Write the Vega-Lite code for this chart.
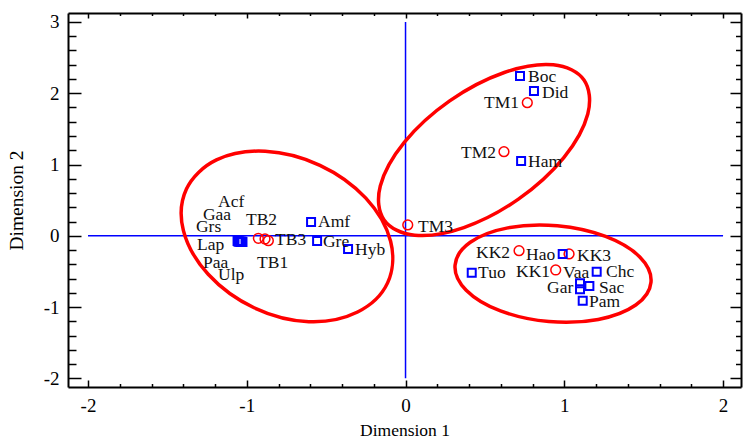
{
  "$schema": "https://vega.github.io/schema/vega-lite/v6.json",
  "width": 673,
  "height": 374,
  "autosize": {"type": "none"},
  "padding": {"left": 68, "top": 13, "right": 2, "bottom": 54},
  "background": "white",
  "config": {"view": {"stroke": null}, "font": "Liberation Serif"},
  "datasets": {
    "ref": [
      {"x": 0, "x2": 0, "y": 3, "y2": -2},
      {"x": -2, "x2": 2, "y": 0, "y2": 0}
    ],
    "ell": [
      {"cluster": "TB", "i": 0, "x": -0.113, "y": -0.661},
      {"cluster": "TB", "i": 1, "x": -0.302, "y": -1.069},
      {"cluster": "TB", "i": 2, "x": -0.609, "y": -1.205},
      {"cluster": "TB", "i": 3, "x": -0.954, "y": -1.010},
      {"cluster": "TB", "i": 4, "x": -1.243, "y": -0.540},
      {"cluster": "TB", "i": 5, "x": -1.399, "y": 0.072},
      {"cluster": "TB", "i": 6, "x": -1.380, "y": 0.655},
      {"cluster": "TB", "i": 7, "x": -1.191, "y": 1.064},
      {"cluster": "TB", "i": 8, "x": -0.884, "y": 1.186},
      {"cluster": "TB", "i": 9, "x": -0.539, "y": 0.989},
      {"cluster": "TB", "i": 10, "x": -0.250, "y": 0.528},
      {"cluster": "TB", "i": 11, "x": -0.094, "y": -0.077},
      {"cluster": "TM", "i": 0, "x": 1.124, "y": 2.186},
      {"cluster": "TM", "i": 1, "x": 1.148, "y": 1.709},
      {"cluster": "TM", "i": 2, "x": 0.997, "y": 1.097},
      {"cluster": "TM", "i": 3, "x": 0.711, "y": 0.514},
      {"cluster": "TM", "i": 4, "x": 0.367, "y": 0.115},
      {"cluster": "TM", "i": 5, "x": 0.058, "y": 0.008},
      {"cluster": "TM", "i": 6, "x": -0.135, "y": 0.222},
      {"cluster": "TM", "i": 7, "x": -0.159, "y": 0.699},
      {"cluster": "TM", "i": 8, "x": -0.008, "y": 1.311},
      {"cluster": "TM", "i": 9, "x": 0.278, "y": 1.893},
      {"cluster": "TM", "i": 10, "x": 0.622, "y": 2.291},
      {"cluster": "TM", "i": 11, "x": 0.931, "y": 2.399},
      {"cluster": "KK", "i": 0, "x": 1.546, "y": -0.652},
      {"cluster": "KK", "i": 1, "x": 1.450, "y": -0.972},
      {"cluster": "KK", "i": 2, "x": 1.214, "y": -1.174},
      {"cluster": "KK", "i": 3, "x": 0.903, "y": -1.204},
      {"cluster": "KK", "i": 4, "x": 0.598, "y": -1.054},
      {"cluster": "KK", "i": 5, "x": 0.382, "y": -0.763},
      {"cluster": "KK", "i": 6, "x": 0.312, "y": -0.411},
      {"cluster": "KK", "i": 7, "x": 0.408, "y": -0.091},
      {"cluster": "KK", "i": 8, "x": 0.644, "y": 0.111},
      {"cluster": "KK", "i": 9, "x": 0.956, "y": 0.140},
      {"cluster": "KK", "i": 10, "x": 1.260, "y": -0.010},
      {"cluster": "KK", "i": 11, "x": 1.477, "y": -0.300}
    ],
    "pts": [
      {"name": "Boc", "grp": "species", "x": 0.721, "y": 2.242, "lx": 0.772, "ly": 2.228},
      {"name": "Did", "grp": "species", "x": 0.809, "y": 2.032, "lx": 0.860, "ly": 2.004},
      {"name": "Ham", "grp": "species", "x": 0.728, "y": 1.050, "lx": 0.772, "ly": 1.036},
      {"name": "Amf", "grp": "species", "x": -0.595, "y": 0.194, "lx": -0.551, "ly": 0.194},
      {"name": "Gre", "grp": "species", "x": -0.557, "y": -0.073, "lx": -0.520, "ly": -0.087},
      {"name": "Hyb", "grp": "species", "x": -0.362, "y": -0.185, "lx": -0.318, "ly": -0.199},
      {"name": "Acf", "grp": "species", "x": -1.058, "y": -0.075, "lx": -1.181, "ly": 0.474},
      {"name": "Gaa", "grp": "species", "x": -1.052, "y": -0.085, "lx": -1.276, "ly": 0.292},
      {"name": "Grs", "grp": "species", "x": -1.046, "y": -0.078, "lx": -1.320, "ly": 0.123},
      {"name": "Lap", "grp": "species", "x": -1.040, "y": -0.088, "lx": -1.313, "ly": -0.129},
      {"name": "Paa", "grp": "species", "x": -1.033, "y": -0.080, "lx": -1.276, "ly": -0.382},
      {"name": "Ulp", "grp": "species", "x": -1.027, "y": -0.086, "lx": -1.181, "ly": -0.550},
      {"name": "Tuo", "grp": "species", "x": 0.417, "y": -0.518, "lx": 0.457, "ly": -0.522},
      {"name": "Hao", "grp": "species", "x": 0.990, "y": -0.255, "lx": 0.759, "ly": -0.269},
      {"name": "Chc", "grp": "species", "x": 1.204, "y": -0.504, "lx": 1.263, "ly": -0.508},
      {"name": "Vaa", "grp": "species", "x": 1.099, "y": -0.666, "lx": 0.992, "ly": -0.522},
      {"name": "Gar", "grp": "species", "x": 1.099, "y": -0.751, "lx": 0.891, "ly": -0.732},
      {"name": "Sac", "grp": "species", "x": 1.158, "y": -0.704, "lx": 1.219, "ly": -0.732},
      {"name": "Pam", "grp": "species", "x": 1.116, "y": -0.911, "lx": 1.156, "ly": -0.929},
      {"name": "TM1", "grp": "treatment", "x": 0.767, "y": 1.868, "lx": 0.494, "ly": 1.863},
      {"name": "TM2", "grp": "treatment", "x": 0.620, "y": 1.180, "lx": 0.350, "ly": 1.162},
      {"name": "TM3", "grp": "treatment", "x": 0.014, "y": 0.152, "lx": 0.079, "ly": 0.123},
      {"name": "TB1", "grp": "treatment", "x": -0.927, "y": -0.035, "lx": -0.935, "ly": -0.382},
      {"name": "TB2", "grp": "treatment", "x": -0.885, "y": -0.045, "lx": -1.005, "ly": 0.222},
      {"name": "TB3", "grp": "treatment", "x": -0.864, "y": -0.069, "lx": -0.822, "ly": -0.059},
      {"name": "KK1", "grp": "treatment", "x": 0.946, "y": -0.480, "lx": 0.696, "ly": -0.508},
      {"name": "KK2", "grp": "treatment", "x": 0.715, "y": -0.209, "lx": 0.444, "ly": -0.241},
      {"name": "KK3", "grp": "treatment", "x": 1.030, "y": -0.255, "lx": 1.080, "ly": -0.283}
    ]
  },
  "resolve": {"axis": {"x": "independent", "y": "independent"}},
  "layer": [
    {
      "data": {"name": "ref"},
      "mark": {"type": "rule", "color": "#0000ff", "strokeWidth": 1.5},
      "encoding": {
        "x": {
          "field": "x", "type": "quantitative",
          "scale": {"domain": [-2.126, 2.113], "nice": false, "zero": false},
          "axis": {
            "orient": "bottom",
            "values": [-2, -1.8, -1.6, -1.4, -1.2, -1, -0.8, -0.6, -0.4, -0.2, 0, 0.2, 0.4, 0.6, 0.8, 1, 1.2, 1.4, 1.6, 1.8, 2],
            "title": "Dimension 1",
            "titleFont": "Liberation Serif", "titleFontSize": 17.5, "titleFontWeight": "normal", "titleColor": "#000", "titlePadding": 3,
            "labelExpr": "abs(datum.value - round(datum.value)) < 0.001 ? '' + round(datum.value) : ''",
            "labelFont": "Liberation Serif", "labelFontSize": 19, "labelColor": "#000", "labelPadding": 16,
            "labelFlush": false, "labelOverlap": false, "labelBound": false,
            "tickSize": {"condition": {"test": "abs(datum.value - round(datum.value)) < 0.001", "value": -7}, "value": -3.5},
            "tickColor": "#000", "tickWidth": 1.5,
            "domainColor": "#000", "domainWidth": 2, "grid": false
          }
        },
        "x2": {"field": "x2"},
        "y": {
          "field": "y", "type": "quantitative",
          "scale": {"domain": [-2.122, 3.126], "nice": false, "zero": false},
          "axis": {
            "orient": "left",
            "values": [-2, -1.8, -1.6, -1.4, -1.2, -1, -0.8, -0.6, -0.4, -0.2, 0, 0.2, 0.4, 0.6, 0.8, 1, 1.2, 1.4, 1.6, 1.8, 2, 2.2, 2.4, 2.6, 2.8, 3],
            "title": "Dimension 2",
            "titleFont": "Liberation Serif", "titleFontSize": 19.5, "titleFontWeight": "normal", "titleColor": "#000", "titlePadding": 17,
            "labelExpr": "abs(datum.value - round(datum.value)) < 0.001 ? '' + round(datum.value) : ''",
            "labelFont": "Liberation Serif", "labelFontSize": 19, "labelColor": "#000", "labelPadding": 22,
            "labelFlush": false, "labelOverlap": false, "labelBound": false,
            "tickSize": {"condition": {"test": "abs(datum.value - round(datum.value)) < 0.001", "value": -13}, "value": -8},
            "tickColor": "#000", "tickWidth": 1.5,
            "domainColor": "#000", "domainWidth": 2, "grid": false
          }
        },
        "y2": {"field": "y2"}
      }
    },
    {
      "data": {"name": "ell"},
      "mark": {"type": "line", "interpolate": "cardinal-closed", "color": "#ff0000", "strokeWidth": 3.5},
      "encoding": {
        "x": {
          "field": "x", "type": "quantitative",
          "scale": {"domain": [-2.126, 2.113], "nice": false, "zero": false},
          "axis": {
            "orient": "top",
            "values": [-2, -1.8, -1.6, -1.4, -1.2, -1, -0.8, -0.6, -0.4, -0.2, 0, 0.2, 0.4, 0.6, 0.8, 1, 1.2, 1.4, 1.6, 1.8, 2],
            "title": null, "labels": false,
            "tickSize": {"condition": {"test": "abs(datum.value - round(datum.value)) < 0.001", "value": -5}, "value": -2.5},
            "tickColor": "#000", "tickWidth": 1.5,
            "domainColor": "#000", "domainWidth": 2, "grid": false
          }
        },
        "y": {
          "field": "y", "type": "quantitative",
          "scale": {"domain": [-2.122, 3.126], "nice": false, "zero": false},
          "axis": {
            "orient": "right",
            "values": [-2, -1.8, -1.6, -1.4, -1.2, -1, -0.8, -0.6, -0.4, -0.2, 0, 0.2, 0.4, 0.6, 0.8, 1, 1.2, 1.4, 1.6, 1.8, 2, 2.2, 2.4, 2.6, 2.8, 3],
            "title": null, "labels": false,
            "tickSize": {"condition": {"test": "abs(datum.value - round(datum.value)) < 0.001", "value": -11}, "value": -5.5},
            "tickColor": "#000", "tickWidth": 1.5,
            "domainColor": "#000", "domainWidth": 2, "grid": false
          }
        },
        "detail": {"field": "cluster", "type": "nominal"},
        "order": {"field": "i", "type": "quantitative"}
      }
    },
    {
      "data": {"name": "pts"},
      "transform": [{"filter": "datum.grp === 'treatment'"}],
      "mark": {"type": "point", "shape": "circle", "filled": false, "color": "#ff0000", "strokeWidth": 1.5, "size": 95, "opacity": 1},
      "encoding": {
        "x": {"field": "x", "type": "quantitative", "axis": null},
        "y": {"field": "y", "type": "quantitative", "axis": null}
      }
    },
    {
      "data": {"name": "pts"},
      "transform": [{"filter": "datum.grp === 'species'"}],
      "mark": {"type": "point", "shape": "square", "filled": false, "color": "#0000ff", "strokeWidth": 2, "size": 64, "opacity": 1},
      "encoding": {
        "x": {"field": "x", "type": "quantitative", "axis": null},
        "y": {"field": "y", "type": "quantitative", "axis": null}
      }
    },
    {
      "data": {"name": "pts"},
      "mark": {"type": "text", "align": "left", "baseline": "middle", "font": "Liberation Serif", "fontSize": 17.5, "color": "#111"},
      "encoding": {
        "x": {"field": "lx", "type": "quantitative", "axis": null},
        "y": {"field": "ly", "type": "quantitative", "axis": null},
        "text": {"field": "name", "type": "nominal"}
      }
    }
  ]
}
